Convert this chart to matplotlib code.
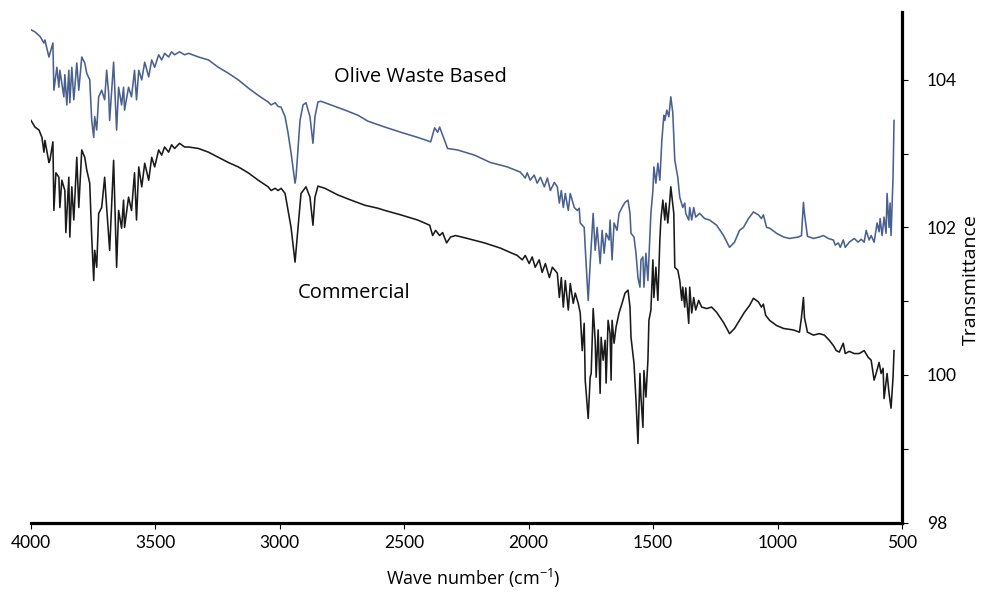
import matplotlib
matplotlib.use("Agg")
import matplotlib.pyplot as plt
from matplotlib.ticker import MultipleLocator

plt.rcParams['font.family'] = ['Lato', 'DejaVu Sans']
plt.rcParams['mathtext.fontset'] = 'custom'
plt.rcParams['mathtext.rm'] = 'Open Sans'
plt.rcParams['mathtext.it'] = 'Open Sans'

# olive waste based carbon (upper, blue trace)
olive_wn = [4000, 3984, 3964, 3948, 3944, 3928, 3912, 3908, 3896, 3888, 3884, 3868, 3864,
            3856, 3848, 3844, 3836, 3828, 3816, 3808, 3796, 3784, 3776, 3764, 3756, 3748,
            3744, 3736, 3728, 3716, 3704, 3696, 3688, 3684, 3668, 3656, 3648, 3636, 3628,
            3624, 3608, 3596, 3584, 3576, 3567, 3555, 3543, 3527, 3515, 3503, 3487, 3475,
            3463, 3447, 3435, 3423, 3403, 3383, 3367, 3327, 3287, 3247, 3207, 3167, 3127,
            3087, 3047, 3035, 3019, 3007, 2995, 2979, 2967, 2955, 2939, 2935, 2919, 2907,
            2895, 2879, 2867, 2859, 2847, 2835, 2795, 2738, 2686, 2646, 2578, 2514, 2446,
            2394, 2378, 2366, 2358, 2346, 2326, 2286, 2218, 2154, 2086, 2034, 2014, 2006,
            1994, 1978, 1966, 1953, 1937, 1925, 1913, 1897, 1885, 1877, 1869, 1861, 1853,
            1841, 1833, 1817, 1805, 1797, 1793, 1777, 1773, 1761, 1753, 1741, 1733, 1725,
            1713, 1705, 1697, 1689, 1677, 1673, 1665, 1657, 1645, 1637, 1625, 1613, 1601,
            1593, 1589, 1577, 1569, 1561, 1553, 1549, 1541, 1537, 1529, 1521, 1513, 1509,
            1501, 1497, 1489, 1481, 1473, 1465, 1457, 1453, 1445, 1437, 1429, 1421, 1413,
            1401, 1393, 1381, 1373, 1369, 1357, 1353, 1345, 1337, 1329, 1313, 1293, 1273,
            1245, 1217, 1193, 1173, 1153, 1137, 1117, 1097, 1077, 1065, 1057, 1044, 1032,
            1004, 976, 952, 916, 904, 896, 892, 880, 856, 832, 816, 796, 776, 768, 756, 748,
            736, 728, 712, 692, 676, 664, 652, 644, 632, 624, 612, 600, 592, 588, 580, 572,
            564, 560, 552, 548, 544, 536, 532]
olive_t = [104.68, 104.65, 104.59, 104.50, 104.54, 104.31, 104.50, 103.86, 104.17, 103.90,
           104.13, 103.77, 104.07, 103.66, 104.13, 103.69, 104.17, 103.73, 104.23, 103.86,
           104.31, 104.23, 104.09, 104.00, 103.45, 103.22, 103.50, 103.32, 103.77, 103.86,
           103.73, 104.13, 103.82, 103.45, 104.24, 103.32, 103.90, 103.66, 103.90, 103.59,
           103.90, 103.77, 104.13, 103.73, 104.13, 104.00, 104.24, 104.04, 104.27, 104.17,
           104.34, 104.27, 104.36, 104.31, 104.38, 104.34, 104.38, 104.34, 104.36, 104.31,
           104.27, 104.17, 104.09, 104.00, 103.89, 103.79, 103.70, 103.66, 103.69, 103.64,
           103.63, 103.50, 103.28, 103.01, 102.60, 102.68, 103.45, 103.66, 103.69, 103.50,
           103.14, 103.50, 103.70, 103.71, 103.66, 103.59, 103.52, 103.44, 103.36, 103.29,
           103.22, 103.16, 103.35, 103.29, 103.36, 103.25, 103.07, 103.05, 102.98, 102.88,
           102.82, 102.75, 102.67, 102.74, 102.64, 102.71, 102.60, 102.68, 102.55, 102.67,
           102.50, 102.61, 102.55, 102.33, 102.50, 102.27, 102.46, 102.23, 102.46, 102.27,
           102.23, 102.26, 102.06, 102.00, 101.73, 101.01, 101.51, 102.19, 101.69, 102.00,
           101.51, 101.96, 101.65, 101.92, 101.83, 102.10, 101.56, 102.06, 101.96, 102.19,
           102.27, 102.34, 102.37, 102.19, 101.92, 101.87, 101.65, 101.32, 101.19, 101.56,
           101.60, 101.19, 101.65, 101.28, 101.87, 102.19, 102.50, 102.82, 102.60, 102.87,
           102.64, 103.18, 103.52, 103.45, 103.59, 103.50, 103.77, 103.55, 102.91, 102.68,
           102.41, 102.27, 102.33, 102.19, 102.10, 102.27, 102.10, 102.27, 102.14, 102.19,
           102.12, 102.10, 102.03, 101.89, 101.73, 101.80, 101.96, 102.00, 102.12, 102.21,
           102.17, 102.12, 102.17, 102.00, 101.99, 101.92, 101.87, 101.85, 101.87, 101.89,
           102.34, 102.19, 101.88, 101.85, 101.87, 101.89, 101.85, 101.83, 101.76, 101.79,
           101.73, 101.83, 101.73, 101.80, 101.85, 101.80, 101.84, 101.80, 101.96, 101.83,
           101.89, 101.80, 102.06, 101.94, 102.12, 101.89, 102.14, 101.92, 102.46, 102.00,
           102.33, 101.89, 102.68, 103.45]

# commercial activated carbon (lower, black trace)
comm_wn = [4000, 3984, 3968, 3956, 3948, 3944, 3928, 3924, 3912, 3908, 3900, 3888, 3884,
           3876, 3864, 3860, 3848, 3844, 3836, 3828, 3816, 3808, 3796, 3784, 3776, 3764,
           3756, 3748, 3744, 3736, 3728, 3716, 3704, 3696, 3684, 3668, 3656, 3648, 3636,
           3628, 3624, 3608, 3596, 3584, 3576, 3567, 3555, 3543, 3527, 3515, 3503, 3487,
           3475, 3463, 3447, 3435, 3423, 3403, 3383, 3367, 3327, 3287, 3247, 3207, 3167,
           3127, 3087, 3047, 3035, 3019, 3007, 2995, 2979, 2967, 2955, 2939, 2927, 2915,
           2895, 2879, 2867, 2859, 2847, 2819, 2767, 2714, 2658, 2606, 2578, 2514, 2446,
           2398, 2386, 2374, 2358, 2346, 2330, 2314, 2294, 2246, 2178, 2114, 2074, 2046,
           2026, 2014, 1998, 1986, 1974, 1958, 1946, 1933, 1917, 1905, 1885, 1877, 1869,
           1861, 1853, 1841, 1833, 1821, 1813, 1801, 1793, 1785, 1777, 1773, 1761, 1753,
           1749, 1741, 1733, 1729, 1721, 1713, 1709, 1701, 1693, 1689, 1681, 1673, 1669,
           1665, 1657, 1649, 1637, 1625, 1613, 1601, 1593, 1589, 1577, 1569, 1561, 1553,
           1549, 1541, 1537, 1529, 1521, 1517, 1509, 1501, 1497, 1489, 1481, 1473, 1469,
           1461, 1453, 1449, 1441, 1433, 1429, 1417, 1413, 1401, 1393, 1385, 1381, 1373,
           1369, 1357, 1353, 1345, 1337, 1329, 1317, 1305, 1285, 1265, 1245, 1217, 1193,
           1173, 1153, 1133, 1113, 1097, 1077, 1065, 1057, 1048, 1032, 1004, 976, 936, 912,
           904, 896, 892, 880, 856, 832, 812, 792, 776, 764, 752, 736, 728, 712, 692, 672,
           652, 636, 624, 612, 604, 592, 584, 576, 572, 560, 552, 544, 536, 532]
comm_t = [103.45, 103.36, 103.32, 103.22, 103.02, 103.18, 102.88, 102.91, 103.16, 102.23,
          102.74, 102.68, 102.27, 102.64, 102.50, 101.93, 102.68, 101.87, 102.55, 102.10,
          102.95, 102.27, 103.05, 102.95, 102.78, 102.60, 101.87, 101.28, 101.69, 101.46,
          102.19, 102.27, 102.68, 102.27, 101.69, 102.91, 101.46, 102.23, 101.99, 102.37,
          102.00, 102.41, 102.23, 102.74, 102.10, 102.82, 102.55, 102.87, 102.64, 102.95,
          102.82, 103.05, 102.98, 103.09, 103.02, 103.12, 103.07, 103.14, 103.09, 103.09,
          103.07, 103.02, 102.95, 102.88, 102.82, 102.74, 102.64, 102.55, 102.50, 102.53,
          102.50, 102.53, 102.46, 102.23, 102.00, 101.53, 102.00, 102.46, 102.55, 102.41,
          102.03, 102.41, 102.56, 102.53, 102.44, 102.37, 102.30, 102.26, 102.23, 102.17,
          102.10, 102.03, 101.89, 101.96, 101.89, 101.93, 101.79, 101.87, 101.89, 101.85,
          101.79, 101.72, 101.66, 101.62, 101.56, 101.62, 101.51, 101.60, 101.46, 101.56,
          101.39, 101.51, 101.32, 101.46, 101.38, 101.05, 101.32, 100.92, 101.28, 100.88,
          101.24, 100.97, 101.11, 100.97, 100.84, 100.33, 100.70, 99.93, 99.41, 99.97,
          100.02, 100.90, 100.47, 99.97, 100.61, 99.75, 100.51, 100.20, 100.47, 99.89,
          100.74, 100.56, 99.93, 100.74, 100.43, 100.65, 100.84, 100.97, 101.11, 101.15,
          100.92, 100.51, 100.16, 99.66, 99.07, 100.02, 99.70, 99.29, 100.06, 99.70,
          100.20, 100.74, 100.88, 101.56, 101.05, 101.46, 101.01, 101.83, 102.10, 102.37,
          102.10, 102.33, 102.06, 102.37, 102.55, 102.19, 101.46, 101.42, 101.28, 101.01,
          101.19, 100.92, 101.18, 100.70, 101.19, 100.84, 101.05, 100.88, 101.01, 100.92,
          100.90, 100.92, 100.85, 100.71, 100.56, 100.63, 100.74, 100.85, 100.94, 101.04,
          100.99, 100.92, 100.96, 100.81, 100.74, 100.67, 100.63, 100.61, 100.58, 100.78,
          101.05, 100.78, 100.58, 100.54, 100.56, 100.54, 100.47, 100.40, 100.33, 100.31,
          100.43, 100.29, 100.32, 100.29, 100.29, 100.33, 100.24, 100.20, 99.93, 100.02,
          100.17, 100.02, 100.09, 99.68, 100.02, 99.75, 99.55, 99.97, 100.33]

x_ticks = [4000, 3500, 3000, 2500, 2000, 1500, 1000, 500]
y_ticks = [98, 100, 102, 104]

fig = plt.figure(figsize=(9.81, 5.92), dpi=100)
ax = fig.add_axes([31 / 981, 69.5 / 592, 871 / 981, 510.5 / 592])

ax.plot(olive_wn, olive_t, color='#4a6190', lw=1.15)
ax.plot(comm_wn, comm_t, color='#1a1a1a', lw=1.15)

ax.set_xlim(4000, 500)
ax.set_ylim(98, 104.92)

for side in ['left', 'top']:
    ax.spines[side].set_visible(False)
ax.spines['bottom'].set_linewidth(2.3)
ax.spines['right'].set_linewidth(2.3)

ax.set_xticks(x_ticks)
ax.set_xticklabels([str(v) for v in x_ticks])
ax.tick_params(axis='x', direction='out', length=4, width=0.8, pad=5, labelsize=12.5)

ax.yaxis.tick_right()
ax.set_yticks(y_ticks)
ax.set_yticklabels([str(v) for v in y_ticks])
ax.yaxis.set_minor_locator(MultipleLocator(1))
ax.tick_params(axis='y', which='both', direction='out', length=4, width=0.8,
               pad=14, labelsize=12.5)

fig.text(473 / 981, 1 - 585 / 592, 'Wave number (cm$^{-1}$)', ha='center',
         va='baseline', fontsize=13, family='Open Sans')
fig.text(971 / 981, 1 - 280 / 592, 'Transmittance', rotation=90, ha='center',
         va='center', fontsize=14, family='Open Sans')

ax.text(2783, 104.04, 'Olive Waste Based', ha='left', va='center', fontsize=14.5,
        family='Open Sans')
ax.text(2927, 101.11, 'Commercial', ha='left', va='center', fontsize=14.5,
        family='Open Sans')

fig.savefig('out.png', dpi=100)
